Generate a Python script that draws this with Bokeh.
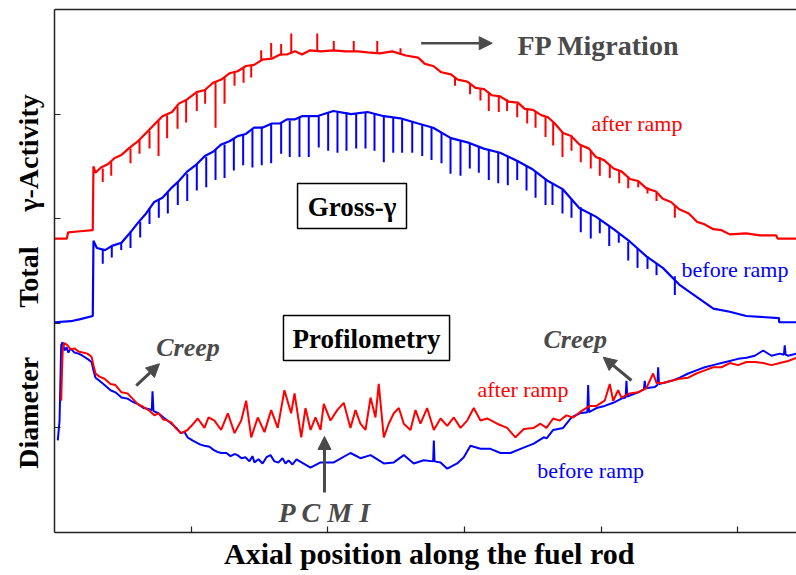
import math
from bokeh.plotting import figure
from bokeh.models import Range1d, FixedTicker, LinearAxis, Label, BoxAnnotation, Arrow, NormalHead
from bokeh.embed import file_html
from bokeh.resources import INLINE

# ---------------- data (axial position in tick units, signal in tick units) ----------------
# Total gamma activity after the power ramp (red)
gamma_after_x = [0.00, 0.09, 0.10, 0.19, 0.28, 0.285, 0.30, 0.34, 0.39, 0.44,
                 0.49, 0.55, 0.61, 0.67, 0.73, 0.79, 0.86, 0.91, 0.97, 1.04,
                 1.10, 1.16, 1.22, 1.28, 1.34, 1.40, 1.46, 1.52, 1.59, 1.65,
                 1.70, 1.76, 1.81, 1.87, 1.95, 2.04, 2.13, 2.22, 2.29, 2.38,
                 2.47, 2.57, 2.66, 2.71, 2.77, 2.83, 2.90, 2.95, 3.02, 3.08,
                 3.14, 3.20, 3.26, 3.32, 3.39, 3.44, 3.50, 3.56, 3.61, 3.66,
                 3.72, 3.78, 3.84, 3.91, 3.96, 4.02, 4.09, 4.15, 4.21, 4.27,
                 4.33, 4.40, 4.45, 4.51, 4.57, 4.64, 4.70, 4.75, 4.82, 4.88,
                 4.94, 5.06, 5.16, 5.28, 5.29, 5.43]
gamma_after_y = [2.81, 2.81, 2.87, 2.88, 2.89, 3.50, 3.44, 3.49, 3.52, 3.58,
                 3.61, 3.68, 3.74, 3.82, 3.90, 3.98, 4.02, 4.10, 4.14, 4.21,
                 4.23, 4.30, 4.33, 4.39, 4.41, 4.46, 4.47, 4.52, 4.53, 4.57,
                 4.57, 4.60, 4.57, 4.61, 4.60, 4.61, 4.60, 4.60, 4.59, 4.58,
                 4.60, 4.56, 4.54, 4.48, 4.46, 4.40, 4.38, 4.33, 4.31, 4.25,
                 4.24, 4.18, 4.17, 4.12, 4.11, 4.05, 4.04, 3.99, 3.97, 3.91,
                 3.82, 3.79, 3.71, 3.67, 3.59, 3.56, 3.48, 3.45, 3.38, 3.36,
                 3.29, 3.26, 3.19, 3.16, 3.09, 3.05, 2.97, 2.95, 2.90, 2.89,
                 2.85, 2.86, 2.84, 2.84, 2.81, 2.81]
# spikes of the after-ramp gamma trace (pellet interfaces / FP peaks)
after_spike_x = [0.353, 0.415, 0.556, 0.622, 0.695, 0.761, 0.824, 0.900, 0.963, 1.041,
                 1.102, 1.178, 1.244, 1.317, 1.383, 1.439, 1.512, 1.585, 1.658, 1.732,
                 1.922, 2.043, 2.189, 2.361, 2.531, 2.93, 3.04, 3.116, 3.177, 3.250,
                 3.311, 3.385, 3.458, 3.519, 3.592, 3.648, 3.716, 3.782, 3.850, 3.923,
                 3.989, 4.062, 4.131, 4.197, 4.270, 4.338, 4.404, 4.538]
after_spike_base = [3.48, 3.54, 3.67, 3.75, 3.84, 3.94, 3.99, 4.07, 4.13, 4.20,
                    4.24, 4.31, 4.35, 4.41, 4.45, 4.47, 4.51, 4.54, 4.56, 4.58,
                    4.61, 4.60, 4.60, 4.58, 4.57, 4.35, 4.29, 4.24, 4.21, 4.17,
                    4.14, 4.10, 4.05, 4.02, 3.98, 3.92, 3.83, 3.78, 3.71, 3.65,
                    3.59, 3.52, 3.46, 3.40, 3.35, 3.30, 3.25, 3.13]
after_spike_tip = [3.35, 3.41, 3.53, 3.62, 3.67, 3.60, 3.77, 3.86, 3.92, 4.03,
                   4.10, 3.87, 4.10, 4.27, 4.30, 4.35, 4.61, 4.68, 4.67, 4.77,
                   4.77, 4.70, 4.70, 4.70, 4.63, 4.27, 4.19, 4.13, 4.03, 4.02,
                   4.03, 3.97, 3.91, 3.87, 3.78, 3.70, 3.59, 3.65, 3.54, 3.48,
                   3.41, 3.39, 3.34, 3.29, 3.30, 3.24, 3.17, 3.01]

# Total gamma activity before the power ramp (blue)
gamma_before_x = [0.00, 0.12, 0.19, 0.28, 0.285, 0.31, 0.37, 0.42, 0.49, 0.55,
                  0.61, 0.67, 0.73, 0.79, 0.86, 0.91, 0.97, 1.04, 1.10, 1.16,
                  1.22, 1.28, 1.34, 1.40, 1.46, 1.52, 1.59, 1.65, 1.70, 1.76,
                  1.81, 1.92, 2.04, 2.17, 2.29, 2.41, 2.53, 2.66, 2.77, 2.90,
                  3.02, 3.14, 3.26, 3.39, 3.50, 3.61, 3.72, 3.84, 3.96, 4.09,
                  4.21, 4.33, 4.45, 4.57, 4.70, 4.82, 4.94, 5.06, 5.30, 5.301,
                  5.43]
gamma_before_y = [2.01, 2.02, 2.04, 2.07, 2.79, 2.72, 2.70, 2.74, 2.77, 2.86,
                  2.96, 3.05, 3.16, 3.20, 3.30, 3.36, 3.45, 3.52, 3.60, 3.64,
                  3.71, 3.74, 3.79, 3.81, 3.87, 3.87, 3.91, 3.91, 3.95, 3.95,
                  3.98, 3.98, 4.03, 4.00, 4.02, 3.98, 3.96, 3.91, 3.87, 3.77,
                  3.73, 3.67, 3.63, 3.55, 3.47, 3.36, 3.28, 3.10, 3.02, 2.90,
                  2.78, 2.64, 2.53, 2.37, 2.25, 2.14, 2.11, 2.07, 2.05, 2.01,
                  2.01]
before_dip_x = [0.353, 0.419, 0.488, 0.556, 0.627, 0.695, 0.763, 0.829, 0.902, 0.971,
                1.041, 1.110, 1.178, 1.244, 1.312, 1.380, 1.448, 1.516, 1.585, 1.658,
                1.721, 1.792, 1.860, 1.933, 2.002, 2.070, 2.136, 2.207, 2.275, 2.341,
                2.409, 2.478, 2.543, 2.617, 2.690, 2.758, 2.831, 2.897, 2.970, 3.038,
                3.104, 3.177, 3.246, 3.316, 3.385, 3.453, 3.519, 3.592, 3.643, 3.716,
                3.782, 3.850, 3.923, 3.989, 4.058, 4.128, 4.197, 4.265, 4.338, 4.404,
                4.538]
before_dip_base = [2.70, 2.73, 2.77, 2.88, 2.97, 3.10, 3.18, 3.26, 3.35, 3.43,
                   3.53, 3.59, 3.66, 3.71, 3.77, 3.81, 3.85, 3.88, 3.90, 3.92,
                   3.94, 3.97, 3.98, 3.99, 4.01, 4.02, 4.02, 4.01, 4.01, 4.00,
                   3.99, 3.97, 3.95, 3.93, 3.90, 3.87, 3.82, 3.78, 3.75, 3.72,
                   3.69, 3.66, 3.63, 3.60, 3.56, 3.51, 3.45, 3.38, 3.34, 3.28,
                   3.19, 3.11, 3.05, 2.99, 2.93, 2.86, 2.78, 2.71, 2.64, 2.57,
                   2.45]
before_dip_tip = [2.57, 2.63, 2.70, 2.72, 2.82, 2.95, 3.01, 3.05, 3.13, 3.17,
                  3.27, 3.30, 3.37, 3.39, 3.46, 3.51, 3.49, 3.51, 3.53, 3.62,
                  3.59, 3.59, 3.59, 3.68, 3.65, 3.63, 3.65, 3.67, 3.67, 3.65,
                  3.54, 3.63, 3.63, 3.63, 3.60, 3.56, 3.53, 3.43, 3.41, 3.48,
                  3.44, 3.37, 3.34, 3.32, 3.37, 3.27, 3.20, 3.13, 3.13, 3.05,
                  3.01, 2.87, 2.81, 2.86, 2.74, 2.77, 2.60, 2.53, 2.52, 2.46,
                  2.27]

# Profilometry: diameter before the ramp (blue)
diam_before_x = [0.024, 0.037, 0.049, 0.059, 0.073, 0.088, 0.102, 0.117, 0.146, 0.176,
                 0.205, 0.241, 0.271, 0.285, 0.300, 0.329, 0.366, 0.410, 0.446, 0.490,
                 0.534, 0.571, 0.607, 0.651, 0.688, 0.712, 0.717, 0.724, 0.761, 0.797,
                 0.827, 0.856, 0.892, 0.922, 0.951, 0.973, 1.009, 1.039, 1.068, 1.097,
                 1.134, 1.163, 1.192, 1.222, 1.258, 1.287, 1.317, 1.339, 1.368, 1.397,
                 1.426, 1.448, 1.463, 1.492, 1.522, 1.551, 1.580, 1.609, 1.639, 1.668,
                 1.690, 1.712, 1.741, 1.770, 1.807, 1.873, 1.946, 2.043, 2.165, 2.238,
                 2.312, 2.409, 2.482, 2.555, 2.628, 2.701, 2.770, 2.775, 2.780, 2.824,
                 2.873, 2.946, 2.994, 3.043, 3.116, 3.189, 3.262, 3.336, 3.409, 3.506,
                 3.579, 3.600, 3.648, 3.721, 3.782, 3.843, 3.898, 3.904, 3.910, 3.965,
                 4.025, 4.087, 4.148, 4.178, 4.184, 4.190, 4.208, 4.270, 4.312, 4.318,
                 4.324, 4.391, 4.410, 4.416, 4.422, 4.453, 4.513, 4.574, 4.636, 4.696,
                 4.757, 4.818, 4.879, 4.940, 5.001, 5.062, 5.123, 5.184, 5.245, 5.306,
                 5.336, 5.342, 5.348, 5.367, 5.428]
diam_before_y = [0.88, 1.07, 1.79, 1.82, 1.74, 1.77, 1.72, 1.76, 1.72, 1.71,
                 1.69, 1.66, 1.63, 1.55, 1.48, 1.45, 1.41, 1.36, 1.34, 1.29,
                 1.28, 1.25, 1.23, 1.19, 1.18, 1.17, 1.35, 1.16, 1.14, 1.10,
                 1.07, 1.04, 1.00, 0.95, 0.96, 0.91, 0.88, 0.86, 0.84, 0.83,
                 0.82, 0.79, 0.77, 0.76, 0.76, 0.73, 0.75, 0.74, 0.71, 0.72,
                 0.68, 0.73, 0.67, 0.70, 0.66, 0.72, 0.74, 0.68, 0.67, 0.71,
                 0.66, 0.69, 0.65, 0.70, 0.67, 0.62, 0.67, 0.67, 0.76, 0.71,
                 0.74, 0.66, 0.67, 0.74, 0.66, 0.69, 0.68, 0.88, 0.68, 0.67,
                 0.61, 0.66, 0.72, 0.83, 0.80, 0.80, 0.76, 0.76, 0.80, 0.85,
                 0.91, 0.90, 0.98, 1.00, 1.10, 1.14, 1.15, 1.41, 1.15, 1.19,
                 1.21, 1.24, 1.28, 1.29, 1.45, 1.30, 1.31, 1.34, 1.37, 1.45,
                 1.38, 1.39, 1.41, 1.58, 1.42, 1.43, 1.45, 1.48, 1.52, 1.55,
                 1.58, 1.60, 1.62, 1.64, 1.66, 1.67, 1.69, 1.74, 1.69, 1.71,
                 1.70, 1.79, 1.70, 1.69, 1.71]

# Profilometry: diameter after the ramp (red)
diam_after_x = [0.049, 0.055, 0.061, 0.073, 0.095, 0.117, 0.146, 0.176, 0.205, 0.241,
                0.271, 0.285, 0.300, 0.329, 0.366, 0.410, 0.446, 0.490, 0.534, 0.571,
                0.607, 0.651, 0.688, 0.731, 0.761, 0.797, 0.827, 0.856, 0.885, 0.927,
                0.973, 1.002, 1.048, 1.097, 1.127, 1.170, 1.219, 1.268, 1.317, 1.366,
                1.402, 1.439, 1.487, 1.536, 1.585, 1.633, 1.682, 1.731, 1.756, 1.805,
                1.836, 1.873, 1.909, 1.946, 1.970, 2.019, 2.068, 2.116, 2.165, 2.202,
                2.238, 2.275, 2.312, 2.348, 2.372, 2.409, 2.445, 2.482, 2.519, 2.555,
                2.604, 2.641, 2.677, 2.726, 2.775, 2.824, 2.873, 2.921, 2.970, 3.019,
                3.067, 3.116, 3.165, 3.238, 3.311, 3.372, 3.433, 3.506, 3.555,
                3.599, 3.648, 3.696, 3.745, 3.794, 3.843, 3.916, 3.965, 4.025, 4.062,
                4.087, 4.123, 4.148, 4.208, 4.270, 4.330, 4.379, 4.404, 4.453, 4.513,
                4.574, 4.636, 4.696, 4.757, 4.818, 4.879, 4.940, 5.001, 5.062, 5.123,
                5.184, 5.245, 5.306, 5.367, 5.428]
diam_after_y = [1.26, 1.55, 1.77, 1.81, 1.79, 1.75, 1.76, 1.73, 1.72, 1.71,
                1.68, 1.60, 1.52, 1.49, 1.47, 1.42, 1.41, 1.34, 1.33, 1.28,
                1.23, 1.20, 1.17, 1.12, 1.14, 1.08, 1.07, 1.05, 1.00, 0.95,
                0.98, 1.02, 1.09, 1.00, 1.10, 1.07, 0.98, 1.14, 0.95, 1.07,
                1.26, 0.91, 1.10, 0.96, 1.17, 1.00, 1.36, 1.14, 1.33, 0.91,
                1.19, 0.98, 1.10, 0.98, 1.23, 1.07, 1.17, 1.24, 1.00, 1.17,
                1.04, 0.98, 1.29, 1.10, 1.42, 0.91, 1.04, 1.14, 1.19, 1.04,
                0.98, 1.17, 1.04, 1.19, 0.98, 1.09, 1.02, 1.10, 1.00, 1.07,
                1.19, 1.07, 1.09, 1.04, 1.00, 0.91, 0.99, 1.00, 1.04,
                1.00, 1.09, 1.07, 1.12, 1.10, 1.15, 1.21, 1.21, 1.26, 1.42,
                1.26, 1.36, 1.29, 1.33, 1.34, 1.38, 1.52, 1.43, 1.43, 1.45,
                1.47, 1.48, 1.52, 1.55, 1.58, 1.58, 1.62, 1.60, 1.63, 1.63,
                1.62, 1.60, 1.62, 1.64, 1.67]

x_ticks = [1, 2, 3, 4, 5]
y_ticks = [1, 2, 3, 4]

RED = "#ff0000"
BLUE = "#0000ff"
GRAY = "#4a4a4a"
SERIF = "Liberation Serif"
NB = "\u00a0"

# ---------------- figure ----------------
p = figure(width=796, height=575, output_backend="svg", toolbar_location=None,
           x_range=Range1d(0, 5.428), y_range=Range1d(0, 5.0),
           min_border_left=54, min_border_right=0, min_border_top=9, min_border_bottom=43)
p.background_fill_color = "white"
p.border_fill_color = "white"
p.outline_line_color = None
p.grid.visible = False

for ax, ticks in ((p.xaxis[0], x_ticks), (p.yaxis[0], y_ticks)):
    ax.ticker = FixedTicker(ticks=ticks)
    ax.major_label_overrides = {t: "" for t in ticks}
    ax.major_label_text_font_size = "0px"
    ax.major_label_standoff = 0
    ax.major_tick_in = 6
    ax.major_tick_out = 0
    ax.minor_tick_in = 0
    ax.minor_tick_out = 0
    ax.axis_line_width = 1.5
    ax.major_tick_line_width = 1.2
    ax.axis_line_color = "#222222"
    ax.major_tick_line_color = "#222222"
    ax.axis_label_text_font = SERIF
    ax.axis_label_text_font_style = "bold"
    ax.axis_label_text_color = "black"

p.xaxis.axis_label = NB + "Axial position along the fuel rod"
p.xaxis.axis_label_text_font_size = "30px"
p.xaxis.axis_label_standoff = 4

p.yaxis.axis_label = ("Diameter" + NB * 7 + "Total" + NB * 5 + "γ-Activity" + NB * 3)
p.yaxis.axis_label_text_font_size = "28px"
p.yaxis.axis_label_standoff = 11

top = LinearAxis(ticker=FixedTicker(ticks=[]), major_label_text_font_size="0px",
                 major_tick_in=0, major_tick_out=0, minor_tick_in=0, minor_tick_out=0,
                 axis_line_width=1.5, axis_line_color="#222222")
p.add_layout(top, "above")

# ---------------- traces ----------------
p.line(gamma_before_x, gamma_before_y, line_color=BLUE, line_width=2.2)
p.segment(x0=before_dip_x, y0=before_dip_base, x1=before_dip_x, y1=before_dip_tip,
          line_color=BLUE, line_width=2)
p.line(gamma_after_x, gamma_after_y, line_color=RED, line_width=2.2)
p.segment(x0=after_spike_x, y0=after_spike_base, x1=after_spike_x, y1=after_spike_tip,
          line_color=RED, line_width=2)

p.line(diam_before_x, diam_before_y, line_color=BLUE, line_width=2)
p.line(diam_after_x, diam_after_y, line_color=RED, line_width=2)

# ---------------- annotations ----------------
DY = 0.08  # Label baseline correction


def lab(x, y, text, size, color="black", style="normal", align="left"):
    p.add_layout(Label(x=x, y=y + DY, text=text, text_font=SERIF, text_font_size=size,
                       text_color=color, text_font_style=style, text_align=align,
                       text_baseline="alphabetic"))


def arrow(x0, y0, x1, y1, width=3):
    p.add_layout(Arrow(end=NormalHead(size=13, fill_color=GRAY, line_color=GRAY),
                       x_start=x0, y_start=y0, x_end=x1, y_end=y1,
                       line_color=GRAY, line_width=width))


# boxes
p.add_layout(BoxAnnotation(left=1.778, right=2.575, bottom=2.906, top=3.337,
                           fill_color="white", fill_alpha=1, line_color="black",
                           line_alpha=1, line_width=1.5))
p.add_layout(BoxAnnotation(left=1.675, right=2.890, bottom=1.644, top=2.075,
                           fill_color="white", fill_alpha=1, line_color="black",
                           line_alpha=1, line_width=1.5))
lab(2.176, 3.03, "Gross-γ", "27px", style="bold", align="center")
lab(2.282, 1.769, "Profilometry", "27px", style="bold", align="center")

lab(3.387, 4.579, "FP Migration", "28px", color=GRAY, style="bold")
arrow(2.682, 4.678, 3.202, 4.678, width=2.5)

lab(3.928, 3.83, "after ramp", "22px", color=RED)
lab(4.587, 2.43, "before ramp", "22px", color=BLUE)
lab(3.094, 1.291, "after ramp", "22px", color=RED)
lab(3.531, 0.516, "before ramp", "22px", color=BLUE)

lab(0.744, 1.692, "Creep", "26px", color=GRAY, style="bold italic")
arrow(0.598, 1.405, 0.768, 1.613)
lab(3.577, 1.769, "Creep", "26px", color=GRAY, style="bold italic")
arrow(4.221, 1.453, 4.014, 1.676)

lab(1.639, 0.115, "P C M I", "28px", color=GRAY, style="bold italic")
arrow(1.975, 0.382, 1.975, 0.918)

open("out.html", "w").write(file_html(p, INLINE))
